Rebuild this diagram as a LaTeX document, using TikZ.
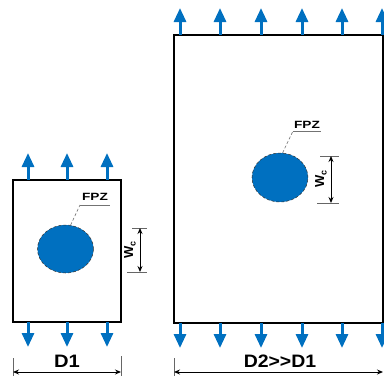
\documentclass[tikz,border=0pt]{standalone}
\usepackage{fontspec}
\setmainfont{Liberation Sans}
\usetikzlibrary{arrows.meta,shapes.geometric}
\definecolor{fpzblue}{HTML}{0070C0}
\begin{document}
\begin{tikzpicture}[x=1pt,y=-1pt,
  specimen/.style={draw=black, line width=2pt, fill=white, inner sep=0pt},
  loadarrow/.style={draw=fpzblue, line width=3pt, -{Triangle[width=12pt,length=14pt]}},
  fpzone/.style={ellipse, fill=fpzblue, draw=black!80, densely dashed, line width=0.5pt, inner sep=0pt},
  leader/.style={draw=black!55, densely dashed, line width=0.6pt},
  underl/.style={draw=black!55, line width=0.6pt},
  dimline/.style={draw=black, line width=0.9pt, {Stealth[length=6pt,width=5pt]}-{Stealth[length=6pt,width=5pt]}},
  extline/.style={draw=black!60, line width=0.6pt},
  lbl/.style={font=\bfseries\fontsize{18}{18}\selectfont, inner sep=0pt},
  fpztext/.style={font=\bfseries\fontsize{10.5}{10.5}\selectfont, inner sep=0pt},
  wctext/.style={font=\bfseries\fontsize{13}{13}\selectfont, inner sep=0pt, rotate=90}]
\useasboundingbox (0,0) rectangle (384,376);
% specimens
\node[specimen, minimum width=108pt, minimum height=142pt] (box1) at (67,251) {};
\node[specimen, minimum width=209pt, minimum height=288pt] (box2) at (278.5,179) {};
% load arrows small specimen
\foreach \x in {28,67,107} {
  \draw[loadarrow] (\x,180) -- (\x,153);
  \draw[loadarrow] (\x,322) -- (\x,347);
}
% load arrows large specimen
\foreach \x in {180,220,261,302,342,382} {
  \draw[loadarrow] (\x,35) -- (\x,8);
  \draw[loadarrow] (\x,323) -- (\x,348);
}
% FPZ small
\node[fpzone, minimum width=56pt, minimum height=48pt] (fpz1) at (65.5,249) {};
\node[fpztext] (t1) at (95,197) {\scalebox{1.3}[1]{FPZ}};
\coordinate (k1) at (80,205);
\coordinate (u1) at (110,205);
\draw[leader] (fpz1.78) -- (k1);
\draw[underl] (k1) -- (u1);
% FPZ large
\node[fpzone, minimum width=56pt, minimum height=49pt] (fpz2) at (280,177.5) {};
\node[fpztext] (t2) at (307,125) {\scalebox{1.3}[1]{FPZ}};
\coordinate (k2) at (293,131);
\coordinate (u2) at (321,131);
\draw[leader] (fpz2.84) -- (k2);
\draw[underl] (k2) -- (u2);
% Wc small
\coordinate (w1t) at (140,228);
\coordinate (w1b) at (140,272);
\draw[extline] (132,228) -- (147,228);
\draw[extline] (127,272) -- (147,272);
\draw[dimline] (w1t) -- (w1b);
\node[wctext] (wc1) at (130,250) {W\raisebox{-0.35ex}{\fontsize{9}{9}\selectfont c}};
% Wc large
\coordinate (w2t) at (331,156);
\coordinate (w2b) at (331,203);
\draw[extline] (320,156) -- (339,156);
\draw[extline] (317,203) -- (339,203);
\draw[dimline] (w2t) -- (w2b);
\node[wctext] (wc2) at (321,179) {W\raisebox{-0.35ex}{\fontsize{9}{9}\selectfont c}};
% D1
\coordinate (d1l) at (13,372);
\coordinate (d1r) at (121,372);
\draw[extline] (13,358) -- (13,376);
\draw[extline] (121,356) -- (121,376);
\draw[dimline] (d1l) -- (d1r);
\node[lbl] (d1) at (67,361) {\scalebox{1.12}[1]{D1}};
% D2
\coordinate (d2l) at (174,372);
\coordinate (d2r) at (383,372);
\draw[extline] (174,358) -- (174,376);
\draw[dimline] (d2l) -- (d2r);
\node[lbl] (d2) at (280,361) {\scalebox{1.08}[1]{D2>\kern0pt>\kern0pt D1}};
\end{tikzpicture}
\end{document}
